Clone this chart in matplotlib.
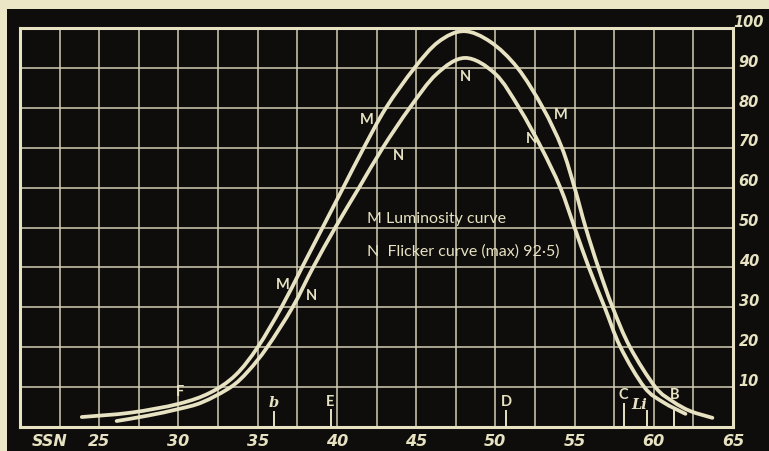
import matplotlib
matplotlib.use("Agg")
import matplotlib.pyplot as plt
from matplotlib.patches import Rectangle, PathPatch
from matplotlib.path import Path

# ---- data ----
lum_x = [23.9, 27.0, 30.0, 32.0, 33.6, 35.0, 36.5, 37.8, 39.1, 40.4, 41.7,
         43.1, 44.9, 46.4, 48.0, 49.7, 51.4, 53.0, 54.2, 55.0, 55.7, 56.5, 57.4,
         58.5, 60.1, 61.2, 62.3, 63.7]
lum_y = [2.5, 3.6, 5.8, 8.6, 13, 20, 30, 40, 50, 60, 70,
         80, 90, 96.5, 99.2, 96.5, 90, 80, 70, 60, 50, 40, 30,
         20, 10, 6.4, 4.0, 2.3]

flk_x = [26.1, 28.0, 30.0, 31.5, 33.3, 34.4, 35.6, 37.2, 38.5, 39.9, 41.4, 42.9,
         44.6, 46.3, 48.1, 50.0, 51.5, 52.9, 54.1, 55.0, 55.9, 56.9, 57.9,
         59.4, 60.6, 62.0]
flk_y = [1.5, 2.8, 4.5, 6.2, 10, 14, 20, 30, 40, 50, 60, 70,
         80, 88.5, 92.5, 88.5, 80, 70, 60, 50, 40, 30, 20,
         10, 6.2, 3.3]

x_tick_vals = [25, 30, 35, 40, 45, 50, 55, 60, 65]
y_tick_vals = [10, 20, 30, 40, 50, 60, 70, 80, 90, 100]

line_names = ["F", "b", "E", "D", "C", "Li", "B"]
line_pos = [30.1, 36.0, 39.6, 50.7, 58.1, 59.6, 61.3]
line_has_tick = [False, True, True, True, True, True, True]

curve_labels = ["M", "N", "M", "N", "N", "N", "M"]
curve_label_x = [36.6, 38.4, 41.9, 43.9, 48.1, 52.3, 54.1]
curve_label_y = [35.8, 33.2, 77.3, 68.2, 88.0, 72.4, 78.4]

legend_lines = ["M Luminosity curve", "N  Flicker curve (max) 92\u00b75)"]

# ---- style ----
BG = "#0f0d0b"
CREAM = "#ebe7c6"
LINE = "#e6e2c2"
GRID = "#d2ceb4"


def smooth_path(xs, ys):
    """Catmull-Rom spline through the given points, as a cubic Bezier Path."""
    pts = list(zip(xs, ys))
    verts = [pts[0]]
    codes = [Path.MOVETO]
    n = len(pts)
    for i in range(n - 1):
        p0 = pts[i - 1] if i > 0 else pts[i]
        p1 = pts[i]
        p2 = pts[i + 1]
        p3 = pts[i + 2] if i + 2 < n else pts[i + 1]
        c1 = (p1[0] + (p2[0] - p0[0]) / 6, p1[1] + (p2[1] - p0[1]) / 6)
        c2 = (p2[0] - (p3[0] - p1[0]) / 6, p2[1] - (p3[1] - p1[1]) / 6)
        verts += [c1, c2, p2]
        codes += [Path.CURVE4] * 3
    return Path(verts, codes)


fig = plt.figure(figsize=(7.69, 4.52), dpi=100, facecolor=BG)
fig.patches.append(Rectangle((0, 1 - 10 / 452), 1, 10 / 452, transform=fig.transFigure,
                             facecolor=CREAM, edgecolor="none", zorder=-5))
fig.patches.append(Rectangle((0, 0), 7 / 769, 1, transform=fig.transFigure,
                             facecolor=CREAM, edgecolor="none", zorder=-5))

ax = fig.add_axes([20 / 769, 1 - 428 / 452, (733 - 20) / 769, (428 - 29) / 452])
ax.set_facecolor(BG)
ax.set_xlim(20, 65)
ax.set_ylim(0, 100)

ax.set_xticks([20 + 2.5 * i for i in range(19)])
ax.set_yticks([10 * i for i in range(11)])
ax.tick_params(length=0, labelbottom=False, labelleft=False)
ax.grid(True, color=GRID, linewidth=1.1)
for s in ax.spines.values():
    s.set_color(LINE)
    s.set_linewidth(2.2)

for xs, ys in ((lum_x, lum_y), (flk_x, flk_y)):
    ax.add_patch(PathPatch(smooth_path(xs, ys), fill=False, edgecolor=LINE,
                           linewidth=2.7, capstyle="round", zorder=3))

for t, x, y in zip(curve_labels, curve_label_x, curve_label_y):
    ax.text(x, y, t, color=LINE, fontsize=10.5, fontweight="bold", family="Lato",
            ha="center", va="center", zorder=4)

ax.text(41.9, 52.5, legend_lines[0], color=LINE, fontsize=11.5, family="Lato",
        ha="left", va="center")
ax.text(41.9, 44.3, legend_lines[1], color=LINE, fontsize=11.5, family="Lato",
        ha="left", va="center")

label_y = {"F": 9.0, "b": 6.3, "E": 6.5, "D": 6.5, "C": 8.3, "Li": 5.8, "B": 8.3}
tick_top = {"F": 0, "b": 3.8, "E": 4.2, "D": 4.0, "C": 5.8, "Li": 4.0, "B": 4.0}
label_dx = {"Li": -0.5}
for name, x, has in zip(line_names, line_pos, line_has_tick):
    if has:
        ax.plot([x, x], [0, tick_top[name]], color=LINE, linewidth=1.4, zorder=2)
    style = "italic" if name in ("b", "Li") else "normal"
    fam = "DejaVu Serif" if name in ("b", "Li") else "Lato"
    ax.text(x + label_dx.get(name, 0), label_y[name], name, color=LINE, fontsize=10.5,
            fontweight="bold", family=fam, style=style, ha="center", va="center", zorder=4)

for v in x_tick_vals:
    ax.text(v, -3.5, str(v), color=LINE, fontsize=11.5, fontweight="bold",
            style="italic", family="DejaVu Sans", ha="center", va="center", clip_on=False)
ax.text(21.9, -3.5, "SSN", color=LINE, fontsize=11.5, fontweight="bold",
        style="italic", family="DejaVu Sans", ha="center", va="center", clip_on=False)
for v in y_tick_vals:
    ax.text(66.0, v + 1.7, str(v), color=LINE, fontsize=10.5, fontweight="bold",
            style="italic", family="DejaVu Sans", ha="center", va="center", clip_on=False)

fig.savefig("out.png", dpi=100, facecolor=BG)
